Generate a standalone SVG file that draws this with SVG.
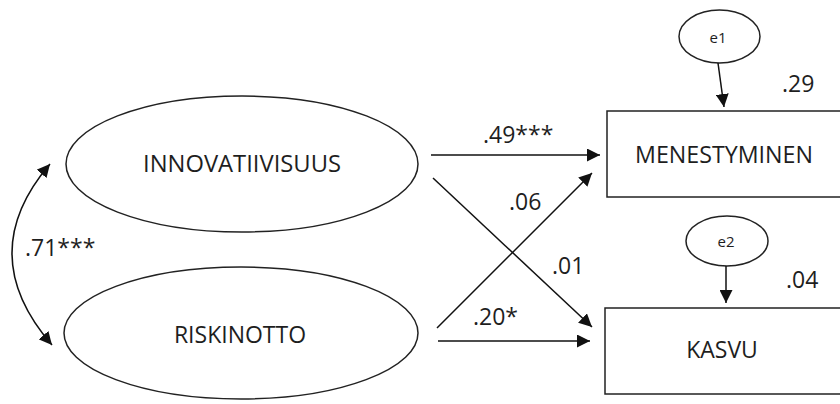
<svg xmlns="http://www.w3.org/2000/svg" width="840" height="404" viewBox="0 0 840 404">
<defs>
<marker id="ah" markerUnits="userSpaceOnUse" markerWidth="14" markerHeight="13" refX="13" refY="6.5" orient="auto-start-reverse">
<path d="M0,0 L13,6.5 L0,13 z" fill="#111"/>
</marker>
<style>
.shape{fill:#fff;stroke:#222;stroke-width:1.5}
.big{font-family:"Open Sans","Noto Sans","Liberation Sans",sans-serif;font-size:23px;fill:#1e1e1e}
.small{font-family:"Open Sans","Noto Sans","Liberation Sans",sans-serif;font-size:15px;fill:#1e1e1e}
.conn{fill:none;stroke:#111;stroke-width:1.5;marker-end:url(#ah)}
</style>
</defs>
<rect width="840" height="404" fill="#fff"/>
<g id="innovatiivisuus">
<ellipse class="shape" cx="242" cy="164" rx="176" ry="68"/>
<text class="big" x="242" y="172" text-anchor="middle" textLength="198" lengthAdjust="spacingAndGlyphs">INNOVATIIVISUUS</text>
</g>
<g id="riskinotto">
<ellipse class="shape" cx="241" cy="333" rx="177" ry="66"/>
<text class="big" x="240" y="343" text-anchor="middle">RISKINOTTO</text>
</g>
<g id="menestyminen">
<rect class="shape" x="607" y="111" width="240" height="86"/>
<text class="big" x="724" y="163" text-anchor="middle" textLength="178" lengthAdjust="spacingAndGlyphs">MENESTYMINEN</text>
</g>
<g id="kasvu">
<rect class="shape" x="605" y="308" width="240" height="86"/>
<text class="big" x="722" y="358" text-anchor="middle">KASVU</text>
</g>
<g id="e1">
<ellipse class="shape" cx="719.5" cy="36.5" rx="40.5" ry="26.5"/>
<text class="small" x="718" y="43" text-anchor="middle">e1</text>
</g>
<g id="e2">
<ellipse class="shape" cx="727" cy="241" rx="41" ry="25"/>
<text class="small" x="726" y="247" text-anchor="middle">e2</text>
</g>
<g id="connectors">
<path class="conn" d="M718,63 L724,107"/>
<path class="conn" d="M726,266 L726,303"/>
<path class="conn" d="M431,155 L600,155"/>
<path class="conn" d="M433,178 L592,327"/>
<path class="conn" d="M437,328 L592,173"/>
<path class="conn" d="M438,341 L590,341"/>
<path class="conn" d="M50,164 Q-27,254 52,345" style="marker-start:url(#ah)"/>
</g>
<g id="labels">
<text class="big" x="782" y="92">.29</text>
<text class="big" x="786" y="288">.04</text>
<text class="big" x="483" y="143">.49***</text>
<text class="big" x="509" y="210">.06</text>
<text class="big" x="552" y="274">.01</text>
<text class="big" x="473" y="325">.20*</text>
<text class="big" x="25" y="256">.71***</text>
</g>
</svg>
